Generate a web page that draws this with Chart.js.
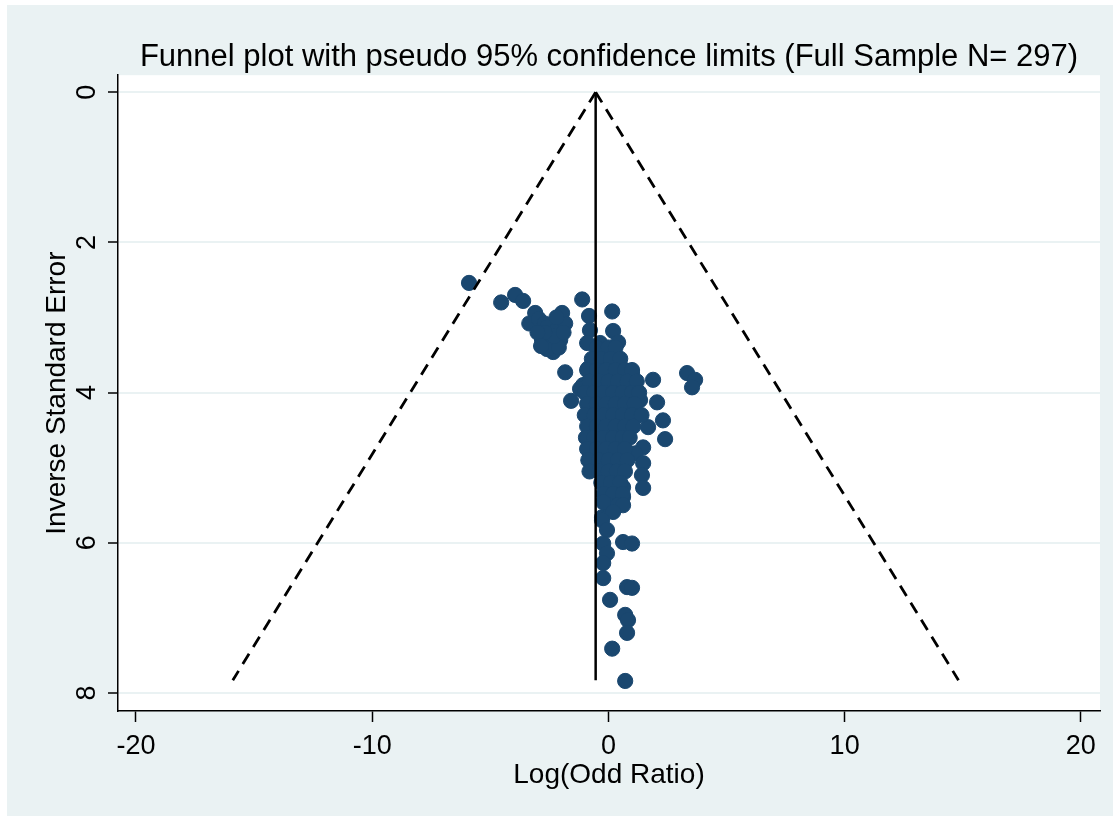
<!DOCTYPE html>
<html>
<head>
<meta charset="utf-8">
<script src="https://cdn.jsdelivr.net/npm/chart.js@4.4.1/dist/chart.umd.min.js"></script>
<style>
  html, body { margin: 0; padding: 0; background: #fff; }
  #wrap { width: 1120px; height: 819px; }
</style>
</head>
<body>
<div id="wrap"><canvas id="funnel" width="1120" height="819"></canvas></div>
<script>
// study estimates: log odds ratio and inverse standard error
const logOddRatio = [
  -5.90, -4.54, -3.95, -3.61, -3.10, -3.35, -2.95, -2.70, -2.59, -2.81,
  -2.34, -2.50, -2.20, -2.17, -2.04, -2.47, -2.60, -2.10, -2.30, -1.96,
  -1.83, -1.90, -2.20, -2.70, -1.83, -1.58, -1.11, -0.82, -0.78, -0.90,
  -0.86, -1.07, -1.20, -3.00, -2.85,
  0.16, 0.20, 0.41, -0.35, -0.06, 0.37, 1.00, 1.89, 3.33, 3.67,
  3.54, 0.50, 1.34, 2.06, 1.68, 2.31, 2.40, 1.47, 1.13, 1.47,
  1.42, 1.47, 0.62, 0.62, 0.20, -0.27,
  -0.50, 0.00, 0.30,
  -0.70, -0.30, 0.10, 0.50,
  -0.90, -0.50, -0.10, 0.30, 0.70, 1.00,
  -0.80, -0.40, 0.00, 0.40, 0.80, 1.20,
  -1.00, -0.60, -0.20, 0.20, 0.60, 1.00, 1.30,
  -0.90, -0.50, -0.10, 0.30, 0.70, 1.10,
  -1.00, -0.60, -0.20, 0.20, 0.60, 1.00, 1.40,
  -0.90, -0.50, -0.10, 0.30, 0.70, 1.05,
  -0.95, -0.60, -0.20, 0.20, 0.60, 0.90,
  -0.90, -0.50, -0.10, 0.30, 0.70,
  -0.85, -0.40, 0.00, 0.40, 0.80,
  -0.80, -0.40, 0.00, 0.35, 0.70,
  -0.30, 0.10, 0.50,
  -0.20, 0.20, 0.60,
  0.00, 0.40,
  -0.22, 0.62, 0.20, -0.27, -0.06, -0.22, 0.62, 1.00, -0.06, -0.22,
  -0.22, 0.79, 1.00, 0.07, 0.71, 0.83, 0.79, 0.16, 0.71
];
const invStdError = [
  2.54, 2.80, 2.70, 2.78, 2.94, 3.08, 3.02, 3.08, 3.13, 3.30,
  3.46, 3.22, 3.17, 3.28, 3.30, 3.38, 3.42, 3.40, 3.25, 2.94,
  3.08, 3.20, 3.00, 3.20, 3.73, 4.11, 2.76, 2.98, 3.17, 3.34,
  3.68, 3.90, 3.95, 3.20, 3.38,
  2.92, 3.18, 3.33, 3.34, 3.46, 3.66, 3.74, 3.83, 3.74, 3.83,
  3.93, 3.97, 4.10, 4.13, 4.46, 4.37, 4.62, 4.73, 4.81, 4.94,
  5.10, 5.27, 5.26, 5.39, 5.57, 5.66,
  3.40, 3.40, 3.40,
  3.55, 3.55, 3.55, 3.55,
  3.70, 3.70, 3.70, 3.70, 3.70, 3.70,
  3.85, 3.85, 3.85, 3.85, 3.85, 3.85,
  4.00, 4.00, 4.00, 4.00, 4.00, 4.00, 4.00,
  4.15, 4.15, 4.15, 4.15, 4.15, 4.15,
  4.30, 4.30, 4.30, 4.30, 4.30, 4.30, 4.30,
  4.45, 4.45, 4.45, 4.45, 4.45, 4.45,
  4.60, 4.60, 4.60, 4.60, 4.60, 4.60,
  4.75, 4.75, 4.75, 4.75, 4.75,
  4.90, 4.90, 4.90, 4.90, 4.90,
  5.05, 5.05, 5.05, 5.05, 5.05,
  5.20, 5.20, 5.20,
  5.35, 5.35, 5.35,
  5.50, 5.50,
  5.46, 5.50, 5.59, 5.70, 5.83, 6.01, 5.99, 6.01, 6.14, 6.27,
  6.47, 6.59, 6.60, 6.76, 6.96, 7.03, 7.20, 7.41, 7.84
];

// pooled effect line and pseudo 95% limits (endpoints)
const pooledX = [-0.54, -0.54];
const pooledY = [0, 7.83];
const lowerLimitX = [-0.54, -15.9];
const upperLimitX = [-0.54, 14.82];
const limitY = [0, 7.83];

const xTicks = [-20, -10, 0, 10, 20];
const yTicks = [0, 2, 4, 6, 8];

const navy = '#1a476f';
const bgColor = '#eaf2f3';
const fontFamily = '"Liberation Sans", Arial, sans-serif';

const toPoints = (xs, ys) => xs.map((x, i) => ({ x: x, y: ys[i] }));

// background of the graph region and the white plot region
const backgroundPlugin = {
  id: 'stataBackground',
  beforeDraw(chart) {
    const ctx = chart.ctx;
    const a = chart.chartArea;
    ctx.save();
    ctx.fillStyle = '#ffffff';
    ctx.fillRect(0, 0, chart.width, chart.height);
    ctx.fillStyle = bgColor;
    ctx.fillRect(7, 5, chart.width - 14, chart.height - 8);
    ctx.fillStyle = '#ffffff';
    ctx.fillRect(a.left, a.top, a.right - a.left, a.bottom - a.top);
    ctx.restore();
  }
};

// y tick labels are rotated like in Stata
const yLabelPlugin = {
  id: 'rotatedYLabels',
  afterDraw(chart) {
    const ctx = chart.ctx;
    const scale = chart.scales.y;
    ctx.save();
    ctx.font = '27px ' + fontFamily;
    ctx.fillStyle = '#000';
    ctx.textAlign = 'center';
    ctx.textBaseline = 'middle';
    yTicks.forEach(v => {
      const py = scale.getPixelForValue(v);
      ctx.save();
      ctx.translate(scale.right - 30, py);
      ctx.rotate(-Math.PI / 2);
      ctx.fillText(String(v), 0, 0);
      ctx.restore();
    });
    ctx.restore();
  }
};

new Chart(document.getElementById('funnel'), {
  type: 'scatter',
  data: {
    datasets: [
      {
        type: 'line',
        data: toPoints(pooledX, pooledY),
        borderColor: '#000',
        borderWidth: 2.5,
        pointRadius: 0,
        fill: false
      },
      {
        type: 'line',
        data: toPoints(lowerLimitX, limitY),
        borderColor: '#000',
        borderWidth: 2.8,
        borderDash: [12, 8],
        pointRadius: 0,
        fill: false
      },
      {
        type: 'line',
        data: toPoints(upperLimitX, limitY),
        borderColor: '#000',
        borderWidth: 2.8,
        borderDash: [12, 8],
        pointRadius: 0,
        fill: false
      },
      {
        data: toPoints(logOddRatio, invStdError),
        backgroundColor: navy,
        borderColor: navy,
        borderWidth: 1,
        pointRadius: 7.6,
        pointHoverRadius: 7.6
      }
    ]
  },
  options: {
    responsive: false,
    animation: false,
    layout: { padding: { left: 0, right: 20, top: 0, bottom: 0 } },
    plugins: {
      legend: { display: false },
      tooltip: { enabled: false },
      title: {
        display: true,
        fullSize: false,
        text: 'Funnel plot with pseudo 95% confidence limits (Full Sample N= 297)',
        color: '#000',
        font: { family: fontFamily, size: 31, weight: 'normal', lineHeight: 1.2 },
        padding: { top: 39, bottom: -1 }
      }
    },
    scales: {
      x: {
        type: 'linear',
        min: -20.76,
        max: 20.81,
        afterBuildTicks: s => { s.ticks = xTicks.map(v => ({ value: v })); },
        afterFit: s => { s.height = 108; },
        border: { display: true, color: '#000', width: 1.5 },
        grid: { drawOnChartArea: false, drawTicks: true, tickLength: 11, tickColor: '#000', tickWidth: 1.5 },
        ticks: { color: '#000', padding: 8, font: { family: fontFamily, size: 27 }, maxRotation: 0 },
        title: {
          display: true,
          text: 'Log(Odd Ratio)',
          color: '#000',
          font: { family: fontFamily, size: 28, lineHeight: 1.2 },
          padding: { top: 0, bottom: 27 }
        }
      },
      y: {
        type: 'linear',
        reverse: true,
        min: -0.226,
        max: 8.24,
        afterBuildTicks: s => { s.ticks = yTicks.map(v => ({ value: v })); },
        afterFit: s => { s.width = 118; },
        border: { display: true, color: '#000', width: 1.5 },
        grid: { color: bgColor, lineWidth: 2, drawTicks: true, tickLength: 10, tickColor: '#000', tickWidth: 1.5 },
        ticks: { display: false },
        title: {
          display: true,
          text: 'Inverse Standard Error',
          color: '#000',
          font: { family: fontFamily, size: 28, lineHeight: 1.2 },
          padding: { top: 40, bottom: 0 }
        }
      }
    }
  },
  plugins: [backgroundPlugin, yLabelPlugin]
});
</script>
</body>
</html>
